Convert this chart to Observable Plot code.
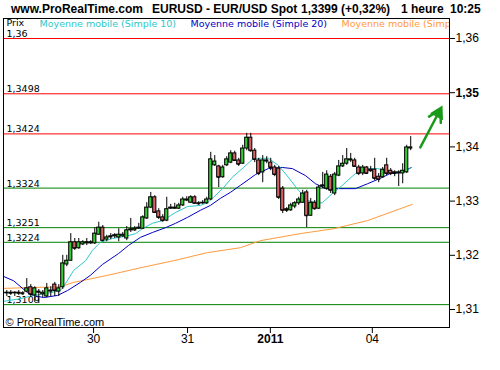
<!DOCTYPE html>
<html><head><meta charset="utf-8">
<script src="https://cdn.jsdelivr.net/npm/d3@7"></script>
<script src="https://cdn.jsdelivr.net/npm/@observablehq/plot@0.6"></script>
<style>
body{margin:0;background:#fff;}
#wrap{position:relative;width:500px;height:370px;overflow:hidden;}
#chart{position:absolute;left:0;top:0;}
.hd{position:absolute;top:3px;font:bold 12px 'Liberation Sans',Arial,sans-serif;line-height:1;white-space:nowrap;color:#000;}
</style>
</head><body>
<div id="wrap"><div id="chart"></div>
<span class="hd" style="left:11px">www.ProRealTime.com</span>
<span class="hd" style="left:152px">EURUSD - EUR/USD Spot</span>
<span class="hd" style="left:301px">1,3399 (+0,32%)</span>
<span class="hd" style="left:401px">1 heure</span>
<span class="hd" style="left:450px">10:25</span>
</div>
<script>
// Hourly EUR/USD candles (index = hour slot)
const openP = [
1.3130,1.3131,1.3130,1.3131,1.3130,1.3133,1.3141,1.3126,1.3131,1.3128,
1.3124,1.3133,1.3146,1.3133,1.3141,1.3183,1.3190,1.3224,1.3213,1.3220,
1.3222,1.3222,1.3222,1.3238,1.3251,1.3229,1.3233,1.3235,1.3233,1.3235,
1.3231,1.3246,1.3246,1.3249,1.3249,1.3268,1.3288,1.3307,1.3281,1.3270,
1.3264,1.3286,1.3286,1.3286,1.3292,1.3301,1.3297,1.3307,1.3296,1.3296,
1.3296,1.3303,1.3366,1.3364,1.3344,1.3366,1.3371,1.3388,1.3375,1.3369,
1.3397,1.3417,1.3393,1.3375,1.3353,1.3373,1.3371,1.3362,1.3360,1.3323,
1.3285,1.3283,1.3290,1.3296,1.3297,1.3316,1.3273,1.3297,1.3286,1.3327,
1.3323,1.3345,1.3314,1.3347,1.3364,1.3369,1.3375,1.3375,1.3362,1.3351,
1.3362,1.3358,1.3358,1.3345,1.3344,1.3366,1.3356,1.3353,1.3351,1.3351,
1.3353,1.3397];
const closeP = [
1.3131,1.3130,1.3131,1.3130,1.3129,1.3139,1.3128,1.3139,1.3133,1.3131,
1.3139,1.3135,1.3135,1.3139,1.3185,1.3190,1.3224,1.3213,1.3224,1.3224,
1.3224,1.3224,1.3240,1.3251,1.3227,1.3233,1.3235,1.3237,1.3238,1.3238,
1.3246,1.3248,1.3249,1.3251,1.3270,1.3288,1.3307,1.3279,1.3270,1.3264,
1.3285,1.3288,1.3288,1.3292,1.3303,1.3303,1.3307,1.3296,1.3295,1.3297,
1.3303,1.3377,1.3373,1.3344,1.3362,1.3377,1.3388,1.3375,1.3368,1.3397,
1.3417,1.3393,1.3377,1.3351,1.3375,1.3375,1.3362,1.3349,1.3307,1.3283,
1.3283,1.3292,1.3296,1.3303,1.3314,1.3273,1.3297,1.3286,1.3325,1.3329,
1.3349,1.3320,1.3349,1.3364,1.3369,1.3377,1.3377,1.3364,1.3351,1.3362,
1.3351,1.3356,1.3342,1.3340,1.3358,1.3351,1.3351,1.3351,1.3353,1.3356,
1.3399,1.3399];
const highP = [
1.3135,1.3135,1.3133,1.3135,1.3133,1.3157,1.3146,1.3142,1.3137,1.3135,
1.3148,1.3142,1.3150,1.3146,1.3200,1.3200,1.3240,1.3231,1.3231,1.3227,
1.3231,1.3227,1.3251,1.3261,1.3255,1.3237,1.3240,1.3240,1.3249,1.3242,
1.3253,1.3268,1.3253,1.3259,1.3273,1.3297,1.3316,1.3310,1.3286,1.3275,
1.3307,1.3294,1.3296,1.3296,1.3307,1.3308,1.3310,1.3310,1.3299,1.3301,
1.3307,1.3390,1.3384,1.3366,1.3366,1.3382,1.3393,1.3392,1.3379,1.3403,
1.3425,1.3425,1.3397,1.3379,1.3384,1.3382,1.3379,1.3366,1.3364,1.3327,
1.3288,1.3296,1.3299,1.3307,1.3320,1.3320,1.3305,1.3301,1.3329,1.3353,
1.3356,1.3349,1.3353,1.3375,1.3384,1.3397,1.3388,1.3379,1.3366,1.3366,
1.3364,1.3364,1.3379,1.3351,1.3362,1.3379,1.3360,1.3356,1.3356,1.3369,
1.3403,1.3419];
const lowP = [
1.3124,1.3126,1.3124,1.3126,1.3126,1.3131,1.3122,1.3113,1.3111,1.3122,
1.3122,1.3124,1.3124,1.3124,1.3137,1.3179,1.3189,1.3209,1.3211,1.3218,
1.3218,1.3220,1.3220,1.3237,1.3225,1.3225,1.3229,1.3231,1.3225,1.3233,
1.3227,1.3242,1.3244,1.3248,1.3248,1.3266,1.3286,1.3277,1.3266,1.3261,
1.3262,1.3285,1.3285,1.3285,1.3290,1.3299,1.3296,1.3294,1.3292,1.3294,
1.3294,1.3301,1.3364,1.3325,1.3342,1.3364,1.3369,1.3373,1.3364,1.3368,
1.3393,1.3390,1.3371,1.3347,1.3334,1.3369,1.3356,1.3345,1.3303,1.3277,
1.3279,1.3281,1.3286,1.3292,1.3296,1.3251,1.3272,1.3283,1.3285,1.3323,
1.3320,1.3314,1.3310,1.3345,1.3362,1.3366,1.3371,1.3362,1.3347,1.3347,
1.3349,1.3353,1.3338,1.3334,1.3342,1.3347,1.3347,1.3345,1.3327,1.3332,
1.3351,1.3393];

// Moving averages (slot, price)
const sma10Slot = [-0.8,3.4,6.7,10.9,13.4,14.7,16.7,19.7,21.4,23.4,26.4,29.7,32.2,33.9,36.4,38.9,40.9,42.2,45.2,48.4,50.2,51.7,54.2,56.4,59.2,61.4,63.4,65.4,67.9,70.4,72.9,75.4,77.7,78.9,81.4,83.9,85.2,87.2,90.2,92.7,95.2,97.2,99.2,101.2];
const sma10Val  = [1.3115,1.3120,1.3126,1.3131,1.3135,1.3148,1.3172,1.3190,1.3209,1.3224,1.3231,1.3235,1.3240,1.3249,1.3259,1.3264,1.3273,1.3279,1.3290,1.3292,1.3297,1.3307,1.3325,1.3344,1.3362,1.3377,1.3379,1.3379,1.3366,1.3344,1.3320,1.3301,1.3296,1.3297,1.3314,1.3329,1.3338,1.3351,1.3360,1.3360,1.3356,1.3353,1.3353,1.3362];
const sma20Slot = [-0.8,1.7,5.2,6.7,9.2,12.7,15.2,18.4,20.9,23.9,27.9,30.4,33.4,36.4,39.7,42.2,45.2,48.4,50.9,53.4,55.9,58.4,62.2,65.4,68.9,71.4,74.7,77.2,79.7,84.7,87.2,90.2,93.4,95.9,98.4,101.2];
const sma20Val  = [1.3161,1.3153,1.3131,1.3126,1.3122,1.3126,1.3135,1.3150,1.3163,1.3183,1.3203,1.3218,1.3233,1.3242,1.3251,1.3259,1.3270,1.3283,1.3292,1.3305,1.3316,1.3329,1.3349,1.3360,1.3362,1.3360,1.3347,1.3332,1.3323,1.3323,1.3323,1.3332,1.3342,1.3351,1.3353,1.3362];
const smaLongSlot = [-0.8,13.4,16.7,25.2,33.4,41.7,50.2,58.4,63.4,73.4,81.7,90.2,101.4];
const smaLongVal  = [1.3139,1.3142,1.3150,1.3163,1.3177,1.3190,1.3205,1.3214,1.3227,1.3240,1.3249,1.3264,1.3294];

// Support / resistance levels
const levelValues = [1.36, 1.3498, 1.3424, 1.3324, 1.3251, 1.3224, 1.3109];
const levelLabels = ["1,36", "1,3498", "1,3424", "1,3324", "1,3251", "1,3224", "1,3109"];
const levelColors = ["#ff0000", "#ff0000", "#ff0000", "#008000", "#008000", "#008000", "#008000"];

// Axis ticks
const yTicks = [1.31, 1.32, 1.33, 1.34, 1.36];
const yTickBold = [1.35];
const xTickSlot = [21.7, 45.2, 91.4];
const xTickText = ["30", "31", "04"];
const xTickBoldSlot = [65.9];
const xTickBoldText = ["2011"];

// Arrow annotation (slot, price)
const arrowFrom = [103.4, 1.3399];
const arrowTo = [108.4, 1.3469];

const UP = "#38c838", DOWN = "#d06464";
const CYAN = "#2ec8c8", BLUE = "#0000c8", ORANGE = "#ff9a3c", ARROW = "#1a9a1a";

const candles = openP.map((o, i) => ({i, open: o, close: closeP[i], high: highP[i], low: lowP[i]}));
const levels = levelValues.map((v, k) => ({value: v, label: levelLabels[k], color: levelColors[k]}));
const ma = (s, v) => s.map((x, k) => ({i: x, v: v[k]}));
const fmtY = d => d.toFixed(2).replace(".", ",");
const labelFont = "'Liberation Sans', Arial, sans-serif";
const smallFont = "'DejaVu Sans', Verdana, sans-serif";

const chart = Plot.plot({
  width: 500, height: 370,
  marginTop: 18, marginBottom: 43, marginLeft: 3, marginRight: 51,
  style: {fontFamily: labelFont, fontSize: "12px", background: "#fff", color: "#000"},
  x: {domain: [-0.825, 110.7], label: null},
  y: {domain: [1.30668, 1.36369], label: null},
  color: {type: "identity"},
  marks: [
    Plot.ruleY(levels, {y: "value", stroke: "color", strokeWidth: 1}),
    Plot.text(levels, {y: "value", text: "label", frameAnchor: "left", dx: 3, dy: -1.5, textAnchor: "start", lineAnchor: "bottom", fontSize: 9.5, fontFamily: smallFont, fill: "#000"}),
    Plot.text(["Prix"], {frameAnchor: "top-left", dx: 3, dy: 7.5, textAnchor: "start", lineAnchor: "bottom", fontSize: 9.5, fontFamily: smallFont, fill: "#000"}),
    Plot.text(["Moyenne mobile (Simple 10)"], {frameAnchor: "top-left", dx: 36, dy: 8.5, textAnchor: "start", lineAnchor: "bottom", fontSize: 9.5, fontFamily: smallFont, fill: CYAN}),
    Plot.text(["Moyenne mobile (Simple 20)"], {frameAnchor: "top-left", dx: 187, dy: 8.5, textAnchor: "start", lineAnchor: "bottom", fontSize: 9.5, fontFamily: smallFont, fill: BLUE}),
    Plot.text(["Moyenne mobile (Simple"], {frameAnchor: "top-left", dx: 338, dy: 8.5, textAnchor: "start", lineAnchor: "bottom", fontSize: 9.5, fontFamily: smallFont, fill: ORANGE, clip: true}),
    Plot.text(["© ProRealTime.com"], {frameAnchor: "bottom-left", dx: 2, dy: -2, textAnchor: "start", lineAnchor: "bottom", fontSize: 11, fill: "#000"}),
    Plot.line(ma(smaLongSlot, smaLongVal), {x: "i", y: "v", stroke: ORANGE, strokeWidth: 1}),
    Plot.line(ma(sma20Slot, sma20Val), {x: "i", y: "v", stroke: BLUE, strokeWidth: 1}),
    Plot.line(ma(sma10Slot, sma10Val), {x: "i", y: "v", stroke: CYAN, strokeWidth: 1}),
    Plot.ruleX(candles, {x: "i", y1: "low", y2: "high", stroke: "#000", strokeWidth: 1}),
    Plot.ruleY(candles, {y: "close", x1: d => d.i - 0.4, x2: d => d.i + 0.4, stroke: "#000"}),
    Plot.rect(candles, {x1: d => d.i - 0.4, x2: d => d.i + 0.4, y1: "open", y2: "close",
      fill: d => d.close >= d.open ? UP : DOWN, stroke: "#000", strokeWidth: 1}),
    Plot.arrow([{a: arrowFrom, b: arrowTo}], {x1: d => d.a[0], y1: d => d.a[1], x2: d => d.b[0], y2: d => d.b[1],
      stroke: ARROW, strokeWidth: 2.5, headLength: 8, headAngle: 60}),
    Plot.dot([{a: arrowFrom, b: arrowTo}], {x: d => d.b[0] - 0.45, y: d => d.b[1] - 0.00065, symbol: "triangle", r: 4.5, fill: ARROW, stroke: ARROW, rotate: 28}),
    Plot.frame({stroke: "#000"}),
    Plot.axisY(yTicks, {anchor: "right", tickSize: 5, tickPadding: 1, tickFormat: fmtY, fontSize: 12}),
    Plot.axisY(yTickBold, {anchor: "right", tickSize: 5, tickPadding: 1, tickFormat: fmtY, fontSize: 12, fontWeight: "bold"}),
    Plot.axisX(xTickSlot, {anchor: "bottom", tickSize: 6, tickPadding: 1, tickFormat: d => xTickText[xTickSlot.indexOf(d)], fontSize: 12}),
    Plot.axisX(xTickBoldSlot, {anchor: "bottom", tickSize: 6, tickPadding: 1, tickFormat: d => xTickBoldText[xTickBoldSlot.indexOf(d)], fontSize: 12, fontWeight: "bold"})
  ]
});
document.getElementById("chart").appendChild(chart);
</script>
</body></html>
